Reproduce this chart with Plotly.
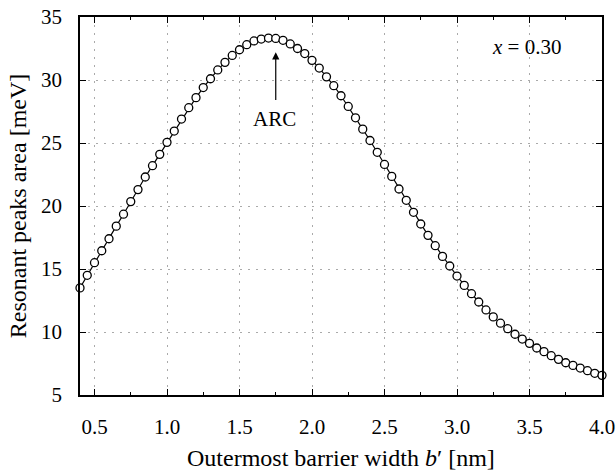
import plotly.graph_objects as go

x_vals = [round(0.40 + 0.05 * i, 2) for i in range(73)]
y_vals = [
    13.5, 14.5, 15.5, 16.45, 17.4, 18.4, 19.35, 20.35, 21.3, 22.3, 23.2, 24.1, 25.05,
    25.95, 26.9, 27.8, 28.6, 29.4, 30.1, 30.8, 31.4, 31.95, 32.4, 32.8, 33.1, 33.25,
    33.33, 33.3, 33.15, 32.86, 32.5, 32.1, 31.56,
    30.95, 30.25, 29.55, 28.75, 27.9, 27.0, 26.1, 25.2, 24.26, 23.3, 22.35, 21.35,
    20.45, 19.5, 18.57, 17.67, 16.85, 16.0, 15.24, 14.44,
    13.7, 13.04, 12.38, 11.75, 11.2, 10.7, 10.26, 9.82, 9.44, 9.1, 8.73, 8.44, 8.12,
    7.83, 7.56, 7.35, 7.14, 6.93, 6.72, 6.56,
]
x_ticks = [0.5, 1.0, 1.5, 2.0, 2.5, 3.0, 3.5, 4.0]
x_ticklabels = ["0.5", "1.0", "1.5", "2.0", "2.5", "3.0", "3.5", "4.0"]
y_ticks = [5, 10, 15, 20, 25, 30, 35]

font_family = "Liberation Serif, Times New Roman, serif"

fig = go.Figure()
fig.add_trace(go.Scatter(
    x=x_vals, y=y_vals, mode="lines",
    line=dict(color="black", width=1.2),
    showlegend=False, cliponaxis=False,
))
fig.add_trace(go.Scatter(
    x=x_vals, y=y_vals, mode="markers",
    marker=dict(symbol="circle", size=8, color="white", line=dict(width=1.3, color="black")),
    showlegend=False, cliponaxis=False,
))

fig.add_annotation(
    x=1.75, y=32.2, ax=1.75, ay=28.3, xref="x", yref="y", axref="x", ayref="y",
    text="", showarrow=True, arrowhead=2, arrowsize=1.2, arrowwidth=1.2, arrowcolor="black",
)
fig.add_annotation(
    x=1.74, y=26.9, xref="x", yref="y", text="ARC", showarrow=False,
    font=dict(family=font_family, size=21, color="black"),
)
fig.add_annotation(
    x=3.48, y=32.6, xref="x", yref="y", text="<i>x</i> = 0.30", showarrow=False,
    font=dict(family=font_family, size=21, color="black"),
)
fig.add_annotation(
    x=0.5, y=0, xref="paper", yref="paper", yanchor="middle", yshift=-63,
    text="Outermost barrier width <i>b</i>′ [nm]", showarrow=False,
    font=dict(family=font_family, size=24, color="black"),
)

axis_common = dict(
    showline=True, linecolor="black", linewidth=1.5, mirror="ticks",
    ticks="inside", ticklen=6, tickcolor="black", tickwidth=1,
    showgrid=True, gridcolor="#aaaaaa", griddash="2px,6px", gridwidth=1,
    zeroline=False,
    tickfont=dict(family=font_family, size=21, color="black"),
    title_font=dict(family=font_family, size=24, color="black"),
)

fig.update_xaxes(
    range=[0.4, 4.0], tickvals=x_ticks, ticktext=x_ticklabels,
    minor=dict(dtick=0.25, ticks="inside", ticklen=3, tickcolor="black", showgrid=False),
    ticklabelstandoff=12, automargin=False,
    **axis_common,
)
fig.update_yaxes(
    range=[5, 35], tickvals=y_ticks, ticklabelstandoff=12, automargin="width",
    title_text="Resonant peaks area [meV]", title_standoff=8,
    **axis_common,
)

fig.update_layout(
    width=616, height=475,
    margin=dict(l=80, r=12, t=17, b=80),
    plot_bgcolor="white", paper_bgcolor="white",
    font=dict(family=font_family, color="black"),
)

fig.write_html("out.html")
